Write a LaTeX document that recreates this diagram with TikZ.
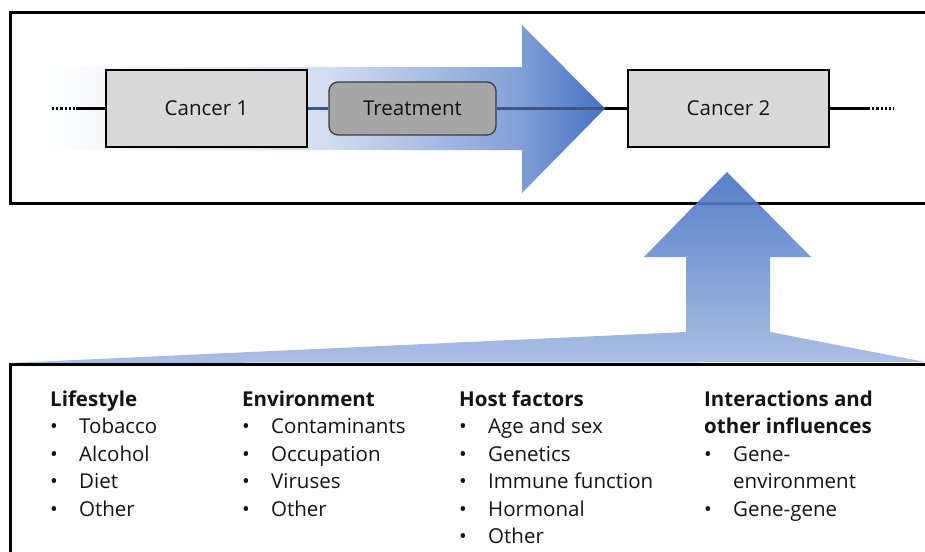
\documentclass[tikz,border=0pt]{standalone}
\usepackage{fontspec}
\setmainfont{Open Sans}
\usetikzlibrary{calc}

\definecolor{arrowblue}{RGB}{68,114,196}
\definecolor{arrowlight}{RGB}{162,184,225}
\definecolor{boxgray}{RGB}{217,217,217}
\definecolor{treatgray}{RGB}{166,166,166}
\definecolor{treatedge}{RGB}{60,60,60}
\definecolor{linkblue}{RGB}{62,86,135}
\definecolor{ink}{RGB}{20,20,20}

% horizontal fade from white to blue for the treatment arrow
\pgfdeclarehorizontalshading{treatshade}{100bp}{%
  color(0bp)=(white); color(25bp)=(white);
  color(50bp)=(arrowblue!24!white);
  color(67bp)=(arrowblue!66!white);
  color(75bp)=(arrowblue); color(100bp)=(arrowblue)}

\pgfdeclarelayer{bg}
\pgfsetlayers{bg,main}

\tikzset{
  frame/.style={line width=3pt, black},
  stage/.style={draw=black, line width=1.3pt, fill=boxgray,
    minimum width=201pt, minimum height=77pt, inner sep=0pt,
    font=\fontsize{20.5}{24}\selectfont, text=ink},
  therapy/.style={draw=treatedge, line width=1.3pt, fill=treatgray,
    rounded corners=9pt, minimum width=167pt, minimum height=53pt,
    inner sep=0pt, font=\fontsize{20.5}{24}\selectfont, text=ink},
  link/.style={line width=2.6pt, black},
  fadelink/.style={line width=2.4pt, linkblue},
  dots/.style={line width=2.6pt, black, dash pattern=on 2.2pt off 2pt},
  head/.style={anchor=base west, inner sep=0pt, text=ink,
    font=\fontsize{20.5}{24}\selectfont\bfseries},
  entry/.style={anchor=base west, inner sep=0pt, text=ink,
    font=\fontsize{20.5}{24}\selectfont},
}

\begin{document}
\begin{tikzpicture}[x=1pt, y=-1pt]
\useasboundingbox (0,0) rectangle (925,551);

% stages of the timeline
\node[stage] (c1) at (206.5,108.5) {Cancer 1};
\node[therapy] (tr) at (412.5,108.5) {Treatment};
\node[stage] (c2) at (728.5,108.5) {Cancer 2};

\coordinate (tip) at (605,108.5);
\coordinate (dl1) at (52,108.5);
\coordinate (dl2) at (76,108.5);
\coordinate (dr1) at (868,108.5);
\coordinate (dr2) at (894,108.5);

% timeline connectors
\draw[dots] (dl1) -- (dl2);
\draw[link] (dl2) -- (c1.west);
\draw[fadelink] (c1.east) -- (tr.west);
\draw[fadelink] (tr.east) -- (tip);
\draw[link] (tip) -- (c2.west);
\draw[link] (c2.east) -- (dr1);
\draw[dots] (dr1) -- (dr2);

\begin{pgfonlayer}{bg}
  % upper and lower panels
  \draw[frame] (930,12.5) -- (10.5,12.5) -- (10.5,203) -- (930,203);
  \draw[frame] (930,364.5) -- (10.5,364.5) -- (10.5,560);
  % treatment arrow
  \path[shading=treatshade]
    (45,67) -- (522,67) -- (522,25) -- (tip) -- (522,193)
    -- (522,150) -- (45,150) -- cycle;
  % arrow of risk factors rising to the second cancer
  \path[top color=arrowblue, bottom color=arrowlight, fill opacity=0.9]
    (727,172) -- (811,257) -- (770,257) -- (770,332) -- (925,362)
    -- (10,363) -- (686,332) -- (686,257) -- (644,257) -- cycle;
\end{pgfonlayer}

% factor columns
\node[head] (h1) at (50,406) {Lifestyle};
\foreach \t [count=\i] in {Tobacco,Alcohol,Diet,Other} {
  \node[entry] (b1\i) at (50,406+27.5*\i) {•};
  \node[entry] (e1\i) at (79,406+27.5*\i) {\t};
}

\node[head] (h2) at (242,406) {Environment};
\foreach \t [count=\i] in {Contaminants,Occupation,Viruses,Other} {
  \node[entry] (b2\i) at (242,406+27.5*\i) {•};
  \node[entry] (e2\i) at (271,406+27.5*\i) {\t};
}

\node[head] (h3) at (459,406) {Host factors};
\foreach \t [count=\i] in {Age and sex,Genetics,Immune function,Hormonal,Other} {
  \node[entry] (b3\i) at (459,406+27.5*\i) {•};
  \node[entry] (e3\i) at (488,406+27.5*\i) {\t};
}

\node[head] (h4a) at (704,406) {Interactions and};
\node[head] (h4b) at (704,433.5) {other influences};
\node[entry] (b41) at (704,461) {•};
\node[entry] (e41) at (733,461) {Gene-};
\node[entry] (e41b) at (733,488.5) {environment};
\node[entry] (b42) at (704,516) {•};
\node[entry] (e42) at (733,516) {Gene-gene};

\end{tikzpicture}
\end{document}
